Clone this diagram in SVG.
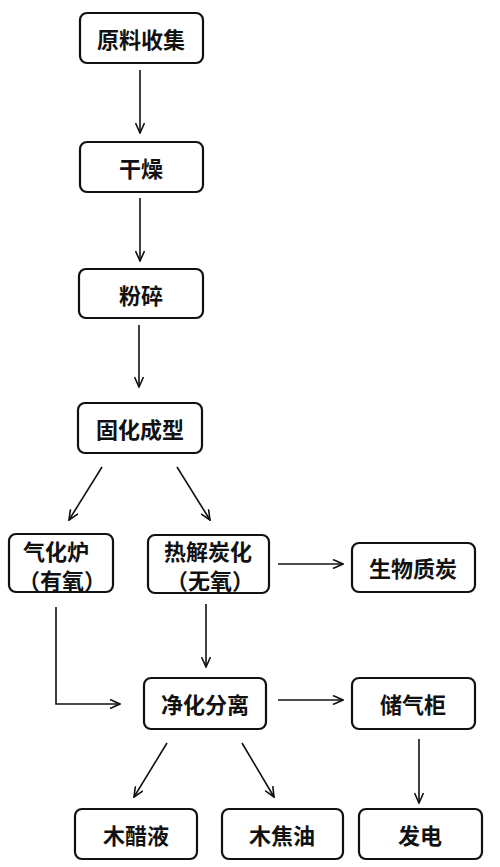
<svg xmlns="http://www.w3.org/2000/svg" width="500" height="867" viewBox="0 0 500 867">
<style>
.box{fill:#fff;stroke:#111;stroke-width:2.2}
.t{font-family:"Noto Sans CJK SC","Noto Sans CJK JP",sans-serif;font-size:22px;font-weight:bold;fill:#111;text-anchor:middle;dominant-baseline:central}
.c{fill:none;stroke:#111;stroke-width:1.6}
</style>
<defs>
<marker id="a" markerWidth="12" markerHeight="10" refX="11" refY="5" orient="auto" markerUnits="userSpaceOnUse">
<path d="M1,0.5 L11,5 L1,9.5" fill="none" stroke="#111" stroke-width="1.6"/>
</marker>
</defs>
<rect width="500" height="867" fill="#fff"/>
<g id="connectors">
<line class="c" x1="140" y1="70" x2="140" y2="133" marker-end="url(#a)"/>
<line class="c" x1="140" y1="198" x2="140" y2="261" marker-end="url(#a)"/>
<line class="c" x1="139" y1="325" x2="139" y2="387" marker-end="url(#a)"/>
<line class="c" x1="102" y1="467" x2="69" y2="520" marker-end="url(#a)"/>
<line class="c" x1="177" y1="467" x2="210" y2="520" marker-end="url(#a)"/>
<line class="c" x1="278" y1="564" x2="343" y2="564" marker-end="url(#a)"/>
<polyline class="c" points="56,607 56,704 120,704" marker-end="url(#a)"/>
<line class="c" x1="206" y1="604" x2="206" y2="667" marker-end="url(#a)"/>
<line class="c" x1="278" y1="700" x2="343" y2="700" marker-end="url(#a)"/>
<line class="c" x1="419" y1="739" x2="419" y2="803" marker-end="url(#a)"/>
<line class="c" x1="167" y1="743" x2="134" y2="797" marker-end="url(#a)"/>
<line class="c" x1="242" y1="743" x2="274" y2="797" marker-end="url(#a)"/>
</g>
<g id="n1"><rect class="box" x="80" y="13" width="123" height="50" rx="7"/><text class="t" x="141" y="38">原料收集</text></g>
<g id="n2"><rect class="box" x="80" y="142" width="123" height="50" rx="7"/><text class="t" x="141" y="167">干燥</text></g>
<g id="n3"><rect class="box" x="79" y="269" width="124" height="49" rx="7"/><text class="t" x="141" y="294">粉碎</text></g>
<g id="n4"><rect class="box" x="78" y="403" width="124" height="50" rx="7"/><text class="t" x="140" y="428">固化成型</text></g>
<g id="n5"><rect class="box" x="9" y="534" width="104" height="58" rx="7"/><text class="t" x="56" y="550">气化炉</text><text class="t" x="62" y="579">（有氧）</text></g>
<g id="n6"><rect class="box" x="148" y="535" width="121" height="58" rx="7"/><text class="t" x="208" y="550">热解炭化</text><text class="t" x="210" y="579">（无氧）</text></g>
<g id="n7"><rect class="box" x="352" y="543" width="123" height="49" rx="7"/><text class="t" x="413" y="567">生物质炭</text></g>
<g id="n8"><rect class="box" x="144" y="678" width="122" height="51" rx="7"/><text class="t" x="205" y="703">净化分离</text></g>
<g id="n9"><rect class="box" x="352" y="678" width="123" height="51" rx="7"/><text class="t" x="413" y="703">储气柜</text></g>
<g id="n10"><rect class="box" x="75" y="809" width="122" height="50" rx="7"/><text class="t" x="136" y="834">木醋液</text></g>
<g id="n11"><rect class="box" x="222" y="809" width="121" height="50" rx="7"/><text class="t" x="282" y="834">木焦油</text></g>
<g id="n12"><rect class="box" x="359" y="809" width="123" height="50" rx="7"/><text class="t" x="420" y="834">发电</text></g>
</svg>
